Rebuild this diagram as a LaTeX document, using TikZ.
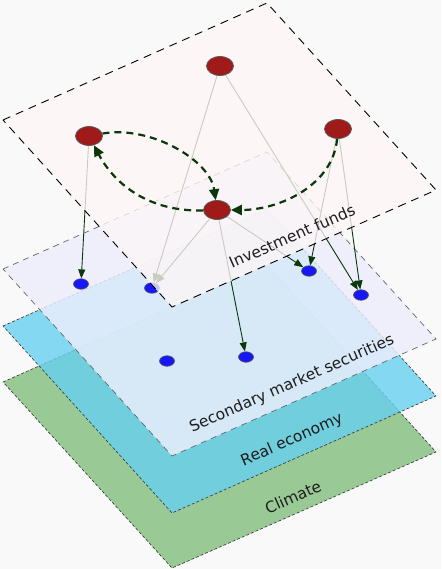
\documentclass[tikz,border=0pt]{standalone}
\usepackage{fontspec}
\newfontfamily\labelfont{DejaVu Sans}
\usetikzlibrary{arrows.meta,shapes.geometric}
\definecolor{bgc}{RGB}{249,249,249}
\definecolor{climc}{RGB}{153,201,148}
\definecolor{realc}{RGB}{104,208,240}
\definecolor{secc}{RGB}{238,238,253}
\definecolor{invc}{RGB}{253,246,246}
\definecolor{fundred}{RGB}{160,26,26}
\definecolor{secblue}{RGB}{22,22,250}
\definecolor{linkgreen}{RGB}{10,56,10}
\definecolor{nodeedge}{RGB}{90,90,90}
\definecolor{labelc}{RGB}{30,30,30}
\pgfdeclarelayer{planes}
\pgfdeclarelayer{lower}
\pgfdeclarelayer{edges}
\pgfdeclarelayer{topplane}
\pgfsetlayers{planes,lower,edges,topplane,main}
\begin{document}
\begin{tikzpicture}[x=1pt,y=-1pt,
  fundnode/.style={ellipse,minimum width=27pt,minimum height=19pt,inner sep=0pt,
    fill=fundred,draw=nodeedge,line width=0.8pt},
  secnode/.style={ellipse,minimum width=15pt,minimum height=10.5pt,inner sep=0pt,
    fill=secblue,draw=nodeedge,line width=0.7pt},
  link/.style={draw=linkgreen,line width=0.9pt,
    -{Triangle[length=9pt,width=7pt]}},
  flow/.style={draw=linkgreen,line width=2.2pt,dash pattern=on 7pt off 5pt,
    -{Triangle[length=11pt,width=10pt]}},
  climplane/.style={fill=climc,draw=black!80,line width=0.6pt,dash pattern=on 3pt off 2pt},
  realplane/.style={fill=realc,fill opacity=0.8,draw=black!80,line width=0.6pt,dash pattern=on 3pt off 2pt},
  secplane/.style={fill=secc,fill opacity=0.82,draw=black!60,line width=0.7pt,dash pattern=on 6pt off 5pt},
  invplane/.style={fill=invc,fill opacity=0.78,draw=black,line width=0.9pt,dash pattern=on 8pt off 6pt},
  layerlabel/.style={font=\labelfont\fontsize{15.5}{18}\selectfont,text=labelc,rotate=23.8,inner sep=0pt}]
\useasboundingbox (0,0) rectangle (441,569);
\begin{pgfonlayer}{planes}
  \fill[bgc] (0,0) rectangle (441,569);
  \path[climplane] (3,382) -- (267,265) -- (436,452) -- (172,568) -- cycle;
  \path[realplane] (3,326) -- (267,209) -- (436,396) -- (172,513) -- cycle;
  \path[secplane] (3,269) -- (267,152) -- (436,339) -- (172,456) -- cycle;
\end{pgfonlayer}
\begin{pgfonlayer}{topplane}
  \path[invplane] (3,120) -- (267,3) -- (436,190) -- (172,307) -- cycle;
\end{pgfonlayer}
% investment funds
\node[fundnode] (fT) at (220,66) {};
\node[fundnode] (fL) at (89,136) {};
\node[fundnode] (fR) at (338,129) {};
\node[fundnode] (fC) at (217,210) {};
% securities
\begin{pgfonlayer}{lower}
  \node[secnode] (s1) at (81,284) {};
  \node[secnode] (s2) at (152,288) {};
  \node[secnode] (s3) at (309,271) {};
  \node[secnode] (s4) at (361,295) {};
  \node[secnode] (s5) at (167,361) {};
  \node[secnode] (s6) at (246,357) {};
\end{pgfonlayer}
\begin{pgfonlayer}{edges}
  \draw[link] (fT) -- (s2);
  \draw[link] (fT) -- (s4);
  \draw[link] (fL) -- (s1);
  \draw[link] (fC) -- (s2);
  \draw[link] (fC) -- (s3);
  \draw[link] (fC) -- (s6);
  \draw[link] (fR) -- (s3);
  \draw[link] (fR) -- (s4);
\end{pgfonlayer}
\draw[flow] (fL) .. controls (150,125) and (210,160) .. (fC);
\draw[flow] (fC) .. controls (150,212) and (115,185) .. (fL);
\draw[flow] (fR) .. controls (333,185) and (280,210) .. (fC);
% labels
\node[layerlabel] (lInv) at (292,236) {Investment funds};
\node[layerlabel] (lSec) at (292,384) {Secondary market securities};
\node[layerlabel] (lReal) at (292,440) {Real economy};
\node[layerlabel] (lClim) at (293,497) {Climate};
\end{tikzpicture}
\end{document}
